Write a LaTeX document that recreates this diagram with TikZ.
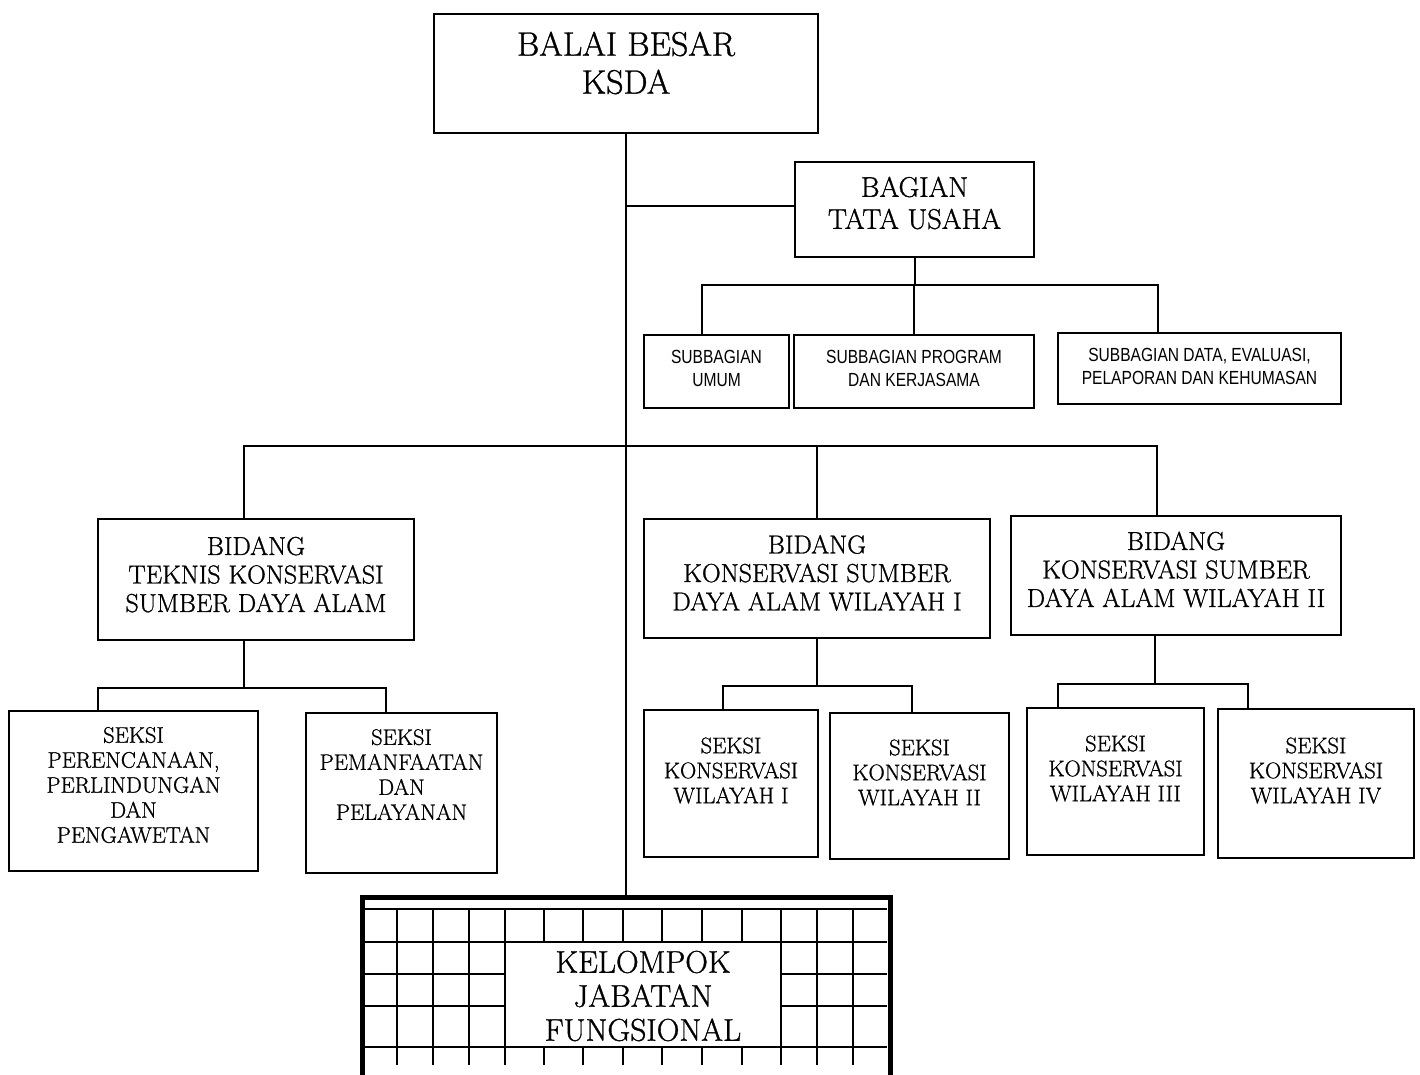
\documentclass[tikz,border=0pt]{standalone}
\usepackage{fontspec}
\usepackage{tikz}
\newfontfamily\chartrm[FakeBold=1]{Latin Modern Roman}
\newfontfamily\narrowsf[FakeStretch=0.82]{Liberation Sans}
\tikzset{
    orgbox/.style={
        rectangle,
        draw,
        line width=2pt,
        inner sep=0
    },
    link/.style={line width=2pt},
    gridline/.style={line width=2pt},
    headtext/.style={align=center, inner sep=0, font=\chartrm\fontsize{34}{38}\selectfont},
    tutext/.style={align=center, inner sep=0, font=\chartrm\fontsize{28.5}{32}\selectfont},
    sbtext/.style={align=center, inner sep=0, font=\narrowsf\fontsize{19}{23}\selectfont},
    bidtext/.style={align=center, inner sep=0, font=\chartrm\fontsize{26}{28.5}\selectfont},
    seksitext/.style={align=center, inner sep=0, font=\chartrm\fontsize{22.5}{25}\selectfont},
    kjftext/.style={align=center, inner sep=0, font=\chartrm\fontsize{31.5}{34}\selectfont}
}

\begin{document}
\begin{tikzpicture}[x=1pt, y=-1pt]
    \useasboundingbox (0,0) rectangle (1420,1075);
    \fill[white] (0,0) rectangle (1420,1075);

    % kepala
    \node[orgbox, minimum width=384, minimum height=119] (balai) at (626,73.5) {};
    \node[headtext] (balai-t) at (626,63) {BALAI BESAR\\KSDA};

    % tata usaha
    \node[orgbox, minimum width=239, minimum height=95] (bagian) at (914.5,209.5) {};
    \node[tutext] (bagian-t) at (914.5,203) {BAGIAN\\TATA USAHA};
    \node[orgbox, minimum width=145, minimum height=73] (umum) at (716.5,371.5) {};
    \node[sbtext] (umum-t) at (716.5,368.5) {SUBBAGIAN\\UMUM};
    \node[orgbox, minimum width=240, minimum height=73] (program) at (914,371.5) {};
    \node[sbtext] (program-t) at (914,368.5) {SUBBAGIAN PROGRAM\\DAN KERJASAMA};
    \node[orgbox, minimum width=283, minimum height=71] (data) at (1199.5,368.5) {};
    \node[sbtext] (data-t) at (1199.5,366) {SUBBAGIAN DATA, EVALUASI,\\PELAPORAN DAN KEHUMASAN};

    % bidang
    \node[orgbox, minimum width=316, minimum height=121] (teknis) at (256,579.5) {};
    \node[bidtext] (teknis-t) at (256,574.5) {BIDANG\\TEKNIS KONSERVASI\\SUMBER DAYA ALAM};
    \node[orgbox, minimum width=346, minimum height=119] (bwil1) at (817,578.5) {};
    \node[bidtext] (bwil1-t) at (817,573) {BIDANG\\KONSERVASI SUMBER\\DAYA ALAM WILAYAH I};
    \node[orgbox, minimum width=330, minimum height=119] (bwil2) at (1176,575.5) {};
    \node[bidtext] (bwil2-t) at (1176,569.5) {BIDANG\\KONSERVASI SUMBER\\DAYA ALAM WILAYAH II};

    % seksi
    \node[orgbox, minimum width=249, minimum height=160] (perenc) at (133.5,791) {};
    \node[seksitext] (perenc-t) at (133.5,785) {SEKSI\\PERENCANAAN,\\PERLINDUNGAN\\DAN\\PENGAWETAN};
    \node[orgbox, minimum width=191, minimum height=160] (pemanf) at (401.5,793) {};
    \node[seksitext] (pemanf-t) at (401.5,774.5) {SEKSI\\PEMANFAATAN\\DAN\\PELAYANAN};
    \node[orgbox, minimum width=174, minimum height=147] (swil1) at (731,783.5) {};
    \node[seksitext] (swil1-t) at (731,770.5) {SEKSI\\KONSERVASI\\WILAYAH I};
    \node[orgbox, minimum width=179, minimum height=146] (swil2) at (919.5,786) {};
    \node[seksitext] (swil2-t) at (919.5,772.5) {SEKSI\\KONSERVASI\\WILAYAH II};
    \node[orgbox, minimum width=177, minimum height=147] (swil3) at (1115.5,781.5) {};
    \node[seksitext] (swil3-t) at (1115.5,768.5) {SEKSI\\KONSERVASI\\WILAYAH III};
    \node[orgbox, minimum width=196, minimum height=149] (swil4) at (1316,783.5) {};
    \node[seksitext] (swil4-t) at (1316,770.5) {SEKSI\\KONSERVASI\\WILAYAH IV};

    % kelompok jabatan fungsional
    \coordinate (kjf-top) at (626,895);
    \draw[line width=5pt] (362,1080) |- (890,897) -- (890,1080);
    \draw[gridline] (365,909) -- (887,909);
    \foreach \y in {942,1047}
        \draw[gridline] (365,\y) -- (887,\y);
    \foreach \y in {974,1006} {
        \draw[gridline] (365,\y) -- (505,\y);
        \draw[gridline] (781,\y) -- (887,\y);
    }
    \foreach \x in {397,433,469,505,544,583,623,662,702,742,781,817,853} {
        \draw[gridline] (\x,909) -- (\x,942);
        \draw[gridline] (\x,1047) -- (\x,1065);
    }
    \foreach \x in {397,433,469,505,781,817,853}
        \draw[gridline] (\x,942) -- (\x,1047);
    \node[kjftext] (kjf) at (643,996) {KELOMPOK\\JABATAN\\FUNGSIONAL};

    % garis
    \draw[link] (balai.south) -- (kjf-top);
    \draw[link] ([yshift=3.5]bagian.west) -- ([yshift=3.5]bagian.west -| balai.south);
    \draw[link] (bagian.south) -- ++(0,27) coordinate (tu-bus);
    \draw[link] ([xshift=-14.5]umum.north) |- (tu-bus) -| ([xshift=-41.5]data.north);
    \draw[link] (program.north) -- (program.north |- tu-bus);

    \coordinate (main-bus) at (626,446);
    \draw[link] ([xshift=-12]teknis.north) |- (main-bus) -| ([xshift=-19]bwil2.north);
    \draw[link] (bwil1.north) -- (bwil1.north |- main-bus);

    \draw[link] ([xshift=-12]teknis.south) -- ++(0,47) coordinate (tk-bus);
    \draw[link] ([xshift=-35.5]perenc.north) |- (tk-bus) -| ([xshift=-15.5]pemanf.north);
    \draw[link] (bwil1.south) -- ++(0,47) coordinate (w1-bus);
    \draw[link] ([xshift=-8]swil1.north) |- (w1-bus) -| ([xshift=-7.5]swil2.north);
    \draw[link] ([xshift=-21]bwil2.south) -- ++(0,48) coordinate (w2-bus);
    \draw[link] ([xshift=-57.5]swil3.north) |- (w2-bus) -| ([xshift=-68]swil4.north);
\end{tikzpicture}
\end{document}
